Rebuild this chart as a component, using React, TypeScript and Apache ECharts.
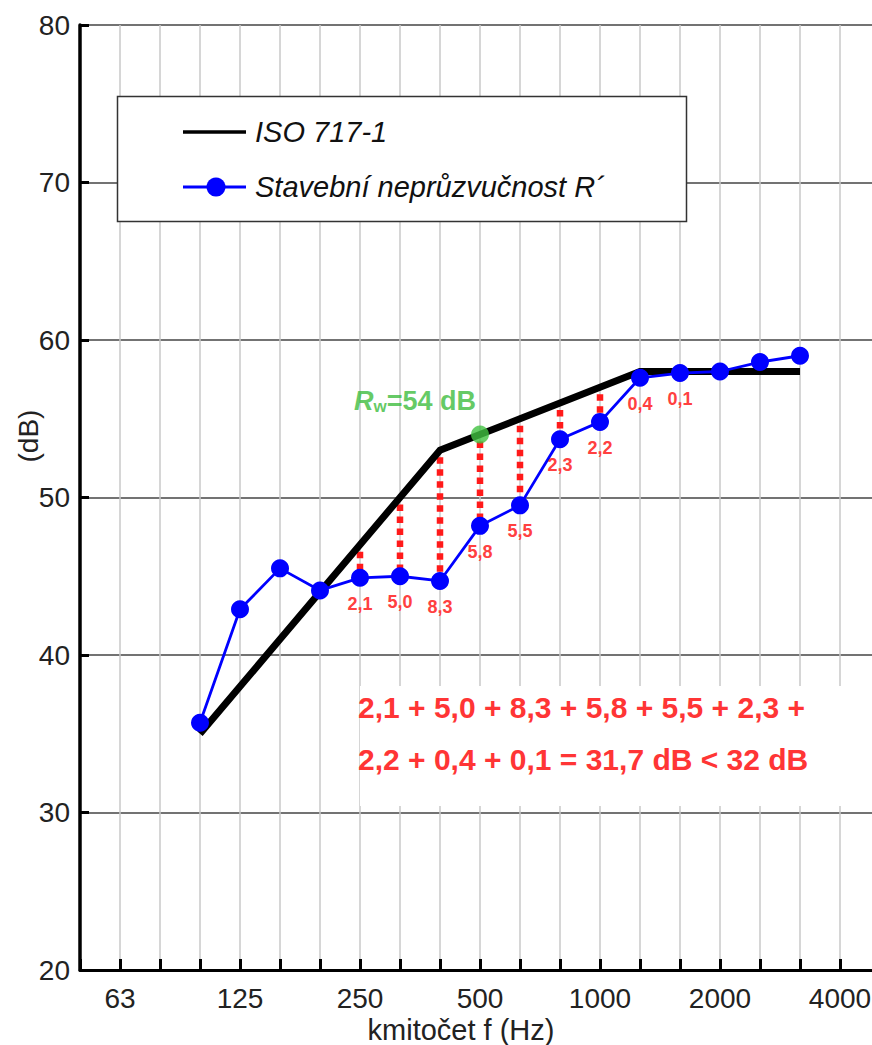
import React, { useEffect, useRef } from "react";
import * as echarts from "echarts";

// Third-octave bands on the x axis (50 Hz .. 5000 Hz)
const bands = ["50", "63", "80", "100", "125", "160", "200", "250", "315", "400", "500", "630", "800", "1000", "1250", "1600", "2000", "2500", "3150", "4000", "5000"];
const octaveLabels = ["63", "125", "250", "500", "1000", "2000", "4000"];
// Measured apparent sound reduction index R' (dB)
const measured = [null, null, null, 35.7, 42.9, 45.5, 44.1, 44.9, 45.0, 44.7, 48.2, 49.5, 53.7, 54.8, 57.6, 57.9, 58.0, 58.6, 59.0, null, null];
// Shifted ISO 717-1 reference curve (dB)
const isoRef = [null, null, null, 35, 38, 41, 44, 47, 50, 53, 54, 55, 56, 57, 58, 58, 58, 58, 58, null, null];
const yTicks = [20, 30, 40, 50, 60, 70, 80];
const rwBand = "500";
const rwValue = 54;
const sumLine1 = "2,1 + 5,0 + 8,3 + 5,8 + 5,5 + 2,3 +";
const sumLine2 = "2,2 + 0,4 + 0,1 = 31,7 dB < 32 dB";
const legendNames = ["ISO 717-1", "Stavební neprůzvučnost R´"];

const FONT = "'Liberation Sans', Arial, Helvetica, sans-serif";

export default function App() {
  const ref = useRef<HTMLDivElement>(null);
  useEffect(() => {
    document.body.style.margin = "0";
    document.body.style.overflow = "hidden";
    if (!ref.current) return;
    const chart = echarts.init(ref.current, undefined, { renderer: "svg" });

    const deficits: any[] = [];
    bands.forEach((b, i) => {
      const m = measured[i];
      const r = isoRef[i];
      if (m != null && r != null && r - m > 0) {
        deficits.push([i, r, m, (r - m).toFixed(1).replace(".", ",")]);
      }
    });

    const option: any = {
      animation: false,
      grid: { left: 80, top: 25, width: 800, height: 945 },
      xAxis: {
        type: "category",
        data: bands,
        boundaryGap: false,
        axisLine: { lineStyle: { color: "#000", width: 3 } },
        axisTick: { show: true, inside: true, length: 11, interval: 0, lineStyle: { color: "#000", width: 3 } },
        axisLabel: {
          interval: (_i: number, v: string) => octaveLabels.includes(v),
          fontSize: 28,
          color: "#222",
          margin: 14,
          fontFamily: FONT,
        },
        splitLine: { show: true, interval: 0, lineStyle: { color: "#c8c8c8", width: 1.5 } },
      },
      yAxis: {
        type: "value",
        min: yTicks[0],
        max: yTicks[yTicks.length - 1],
        interval: 10,
        axisLine: { show: true, lineStyle: { color: "#000", width: 3.5 } },
        axisTick: { show: true, inside: true, length: 9, lineStyle: { color: "#000", width: 3 } },
        axisLabel: { fontSize: 28, color: "#222", margin: 10, fontFamily: FONT },
        splitLine: { show: true, lineStyle: { color: "#444", width: 1.5 } },
      },
      series: [
        {
          name: "deficits",
          type: "custom",
          z: 2,
          data: deficits,
          renderItem: (_params: any, api: any) => {
            const i = api.value(0);
            const p1 = api.coord([i, api.value(1)]);
            const p2 = api.coord([i, api.value(2)]);
            return {
              type: "line",
              shape: { x1: p1[0], y1: p1[1] + 7, x2: p2[0], y2: p2[1] },
              style: { stroke: "#ff1a1a", lineWidth: 6.5, lineDash: [6.5, 5.5] },
            };
          },
        },
        {
          name: legendNames[0],
          type: "line",
          data: isoRef,
          z: 3,
          symbol: "none",
          lineStyle: { color: "#000", width: 7, cap: "butt", join: "miter" },
          itemStyle: { color: "#000" },
        },
        {
          name: legendNames[1],
          type: "line",
          data: measured,
          z: 4,
          symbol: "circle",
          symbolSize: 18,
          lineStyle: { color: "#0000ff", width: 2.8 },
          itemStyle: { color: "#0000ff" },
        },
        {
          name: "deficitLabels",
          type: "custom",
          z: 5,
          data: deficits,
          renderItem: (_params: any, api: any) => {
            const i = api.value(0);
            const p = api.coord([i, api.value(2)]);
            return {
              type: "text",
              x: p[0],
              y: p[1] + 26,
              style: {
                text: deficits.find((d) => d[0] === i)[3],
                fill: "#ff4040",
                font: `bold 18px ${FONT}`,
                align: "center",
                verticalAlign: "middle",
              },
            };
          },
        },
        {
          name: "Rw",
          type: "scatter",
          z: 6,
          symbolSize: 18,
          itemStyle: { color: "#41c241" },
          data: [[rwBand, rwValue]],
          label: {
            show: true,
            position: "top",
            offset: [-65, -6],
            formatter: "{r|R}{w|w}{t|=" + rwValue + " dB}",
            rich: {
              r: { fontSize: 27, fontWeight: "bold", fontStyle: "italic", color: "#3cbc3c", fontFamily: FONT },
              w: { fontSize: 17, fontWeight: "bold", color: "#3cbc3c", fontFamily: FONT, padding: [10, 0, 0, 0] },
              t: { fontSize: 27, fontWeight: "bold", color: "#3cbc3c", fontFamily: FONT },
            },
          },
        },
      ],
      graphic: [
        {
          type: "rect",
          z: 10,
          shape: { x: 117.5, y: 96.5, width: 569, height: 125 },
          style: { fill: "#fff", stroke: "#333", lineWidth: 1.5 },
        },
        {
          type: "line",
          z: 11,
          shape: { x1: 183, y1: 132, x2: 246, y2: 132 },
          style: { stroke: "#000", lineWidth: 3.5 },
        },
        {
          type: "text",
          z: 11,
          x: 255,
          y: 132,
          style: { text: legendNames[0], font: `italic 29px ${FONT}`, fill: "#111", verticalAlign: "middle" },
        },
        {
          type: "line",
          z: 11,
          shape: { x1: 183, y1: 187, x2: 246, y2: 187 },
          style: { stroke: "#0000ff", lineWidth: 2.8 },
        },
        {
          type: "circle",
          z: 11,
          shape: { cx: 216, cy: 187, r: 9.5 },
          style: { fill: "#0000ff" },
        },
        {
          type: "text",
          z: 11,
          x: 255,
          y: 187,
          style: { text: legendNames[1], font: `italic 29px ${FONT}`, fill: "#111", verticalAlign: "middle" },
        },
        {
          type: "rect",
          z: 10,
          shape: { x: 360, y: 686, width: 520, height: 120 },
          style: { fill: "#fff" },
        },
        {
          type: "text",
          z: 11,
          x: 358,
          y: 707,
          style: { text: sumLine1, font: `bold 30px ${FONT}`, fill: "#ff3535", verticalAlign: "middle" },
        },
        {
          type: "text",
          z: 11,
          x: 358,
          y: 759,
          style: { text: sumLine2, font: `bold 30px ${FONT}`, fill: "#ff3535", verticalAlign: "middle" },
        },
        {
          type: "text",
          z: 11,
          x: 28,
          y: 436,
          rotation: Math.PI / 2,
          style: { text: "(dB)", font: `28px ${FONT}`, fill: "#222", align: "center", verticalAlign: "middle" },
        },
        {
          type: "text",
          z: 11,
          x: 461,
          y: 1030,
          style: { text: "kmitočet f (Hz)", font: `29px ${FONT}`, fill: "#222", align: "center", verticalAlign: "middle" },
        },
      ],
    };
    chart.setOption(option);
    return () => chart.dispose();
  }, []);
  return (
    <div style={{ width: 872, height: 1045, overflow: "hidden" }}>
      <div ref={ref} style={{ width: 890, height: 1045 }} />
    </div>
  );
}
